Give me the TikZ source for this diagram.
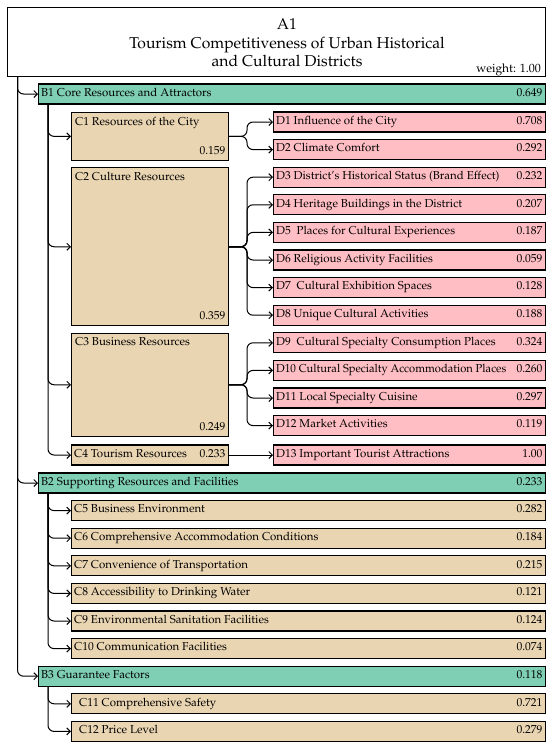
\documentclass[tikz,border=0pt]{standalone}
\usepackage[T1]{fontenc}
\usepackage{mathpazo}
\usepackage{graphicx}
\usetikzlibrary{arrows.meta}
\definecolor{bcol}{RGB}{127,207,180}
\definecolor{ccol}{RGB}{234,213,178}
\definecolor{dcol}{RGB}{255,190,196}
\newcommand\mkrow[7]{%
  \pgfmathsetmacro\rw{#4-#3}%
  \node[#2, minimum width=\rw pt, minimum height=20pt, anchor=west] (#1) at (#3,#5) {};
  \node[txt] (#1t) at ([xshift=3pt]#1.west) {#6};
  \node[wt] (#1w) at ([xshift=-3.5pt]#1.east) {#7};}
\newcommand\mktall[7]{%
  \pgfmathsetmacro\rw{#4-#2}\pgfmathsetmacro\rh{#5-#3}%
  \node[cbox, minimum width=\rw pt, minimum height=\rh pt, anchor=north west] (#1) at (#2,#3) {};
  \node[txt, anchor=north west] (#1t) at ([xshift=4pt,yshift=-5pt]#1.north west) {#6};
  \node[wt, anchor=base east] (#1w) at ([xshift=-3.5pt,yshift=6.5pt]#1.south east) {#7};}
\begin{document}
\begin{tikzpicture}[x=1pt,y=-1pt,
  box/.style={draw=black, line width=1.1pt, rectangle, inner sep=0pt},
  abox/.style={box, fill=white},
  bbox/.style={box, fill=bcol},
  cbox/.style={box, fill=ccol},
  dbox/.style={box, fill=dcol},
  txt/.style={font=\fontsize{11.5}{13}\selectfont, inner sep=0pt, anchor=mid west},
  wt/.style={font=\fontsize{11.5}{13}\selectfont, inner sep=0pt, anchor=mid east},
  ttl/.style={font=\fontsize{15.7}{18}\selectfont, inner sep=0pt, anchor=base},
  arr/.style={-{Straight Barb[length=3.5pt,width=7pt]}, line width=1pt, rounded corners=6pt}]
\useasboundingbox (0,0) rectangle (550,750);
% title
\node[abox, minimum width=538pt, minimum height=69pt, anchor=north west] (a1) at (7,7) {};
\node[ttl] (a1l1) at (287,29.5) {A1};
\node[ttl] (a1l2) at (287,48) {Tourism Competitiveness of Urban Historical};
\node[ttl] (a1l3) at (287,66.5) {and Cultural Districts};
\node[font=\fontsize{12}{14}\selectfont, inner sep=0pt, anchor=base east] (a1w) at (541,72) {weight: 1.00};
% B level
\mkrow{b1}{bbox}{38}{545}{94}{B1 Core Resources and Attractors}{0.649}
\mkrow{b2}{bbox}{38}{545}{483}{B2 Supporting Resources and Facilities}{0.233}
\mkrow{b3}{bbox}{38}{545}{676.2}{B3 Guarantee Factors}{0.118}
% C level under B1
\mktall{c1}{71}{112}{228}{159.6}{C1 Resources of the City}{0.159}
\mktall{c2}{71}{167.2}{228}{325.2}{C2 Culture Resources}{0.359}
\mktall{c3}{71}{332.8}{228}{435.6}{C3 Business Resources}{0.249}
\mkrow{c4}{cbox}{71}{228}{455}{C4 Tourism Resources}{0.233}
% D level
\mkrow{d1}{dbox}{273}{545}{122}{D1 Influence of the City}{0.708}
\mkrow{d2}{dbox}{273}{545}{149.6}{D2 Climate Comfort}{0.292}
\mkrow{d3}{dbox}{273}{545}{177.2}{D3 District's Historical Status (Brand Effect)}{0.232}
\mkrow{d4}{dbox}{273}{545}{204.8}{D4 Heritage Buildings in the District}{0.207}
\mkrow{d5}{dbox}{273}{545}{232.4}{D5\ \ Places for Cultural Experiences}{0.187}
\mkrow{d6}{dbox}{273}{545}{260}{D6 Religious Activity Facilities}{0.059}
\mkrow{d7}{dbox}{273}{545}{287.6}{D7\ \ Cultural Exhibition Spaces}{0.128}
\mkrow{d8}{dbox}{273}{545}{315.2}{D8 Unique Cultural Activities}{0.188}
\mkrow{d9}{dbox}{273}{545}{342.8}{D9\ \ Cultural Specialty Consumption Places}{0.324}
\mkrow{d10}{dbox}{273}{545}{370.4}{\scalebox{0.97}[1]{D10 Cultural Specialty Accommodation Places}}{0.260}
\mkrow{d11}{dbox}{273}{545}{398}{D11 Local Specialty Cuisine}{0.297}
\mkrow{d12}{dbox}{273}{545}{425.6}{D12 Market Activities}{0.119}
\mkrow{d13}{dbox}{273}{545}{455}{D13 Important Tourist Attractions}{1.00}
% C level under B2, B3
\mkrow{c5}{cbox}{71}{545}{510.6}{C5 Business Environment}{0.282}
\mkrow{c6}{cbox}{71}{545}{538.2}{C6 Comprehensive Accommodation Conditions}{0.184}
\mkrow{c7}{cbox}{71}{545}{565.8}{C7 Convenience of Transportation}{0.215}
\mkrow{c8}{cbox}{71}{545}{593.4}{C8 Accessibility to Drinking Water}{0.121}
\mkrow{c9}{cbox}{71}{545}{621}{C9 Environmental Sanitation Facilities}{0.124}
\mkrow{c10}{cbox}{71}{545}{648.6}{C10 Communication Facilities}{0.074}
\mkrow{c11}{cbox}{71}{545}{703.8}{\hspace{5pt}C11 Comprehensive Safety}{0.721}
\mkrow{c12}{cbox}{71}{545}{731.4}{\hspace{5pt}C12 Price Level}{0.279}
% trunk coordinates
\coordinate (ta) at (17.5,0);
\coordinate (tb) at (48,0);
\coordinate (tj) at (247,0);
% A -> B
\foreach \b in {b1,b2,b3} \draw[arr] (a1.south -| ta) |- (\b.west);
% B1 -> C
\foreach \c in {c1,c2,c3,c4} \draw[arr] (b1.south -| tb) |- (\c.west);
% B2 -> C
\foreach \c in {c5,c6,c7,c8,c9,c10} \draw[arr] (b2.south -| tb) |- (\c.west);
% B3 -> C
\foreach \c in {c11,c12} \draw[arr] (b3.south -| tb) |- (\c.west);
% C -> D
\foreach \d in {d1,d2} \draw[arr] (c1.east) -| (tj |- \d.west) -- (\d.west);
\foreach \d in {d3,d4,d5,d6,d7,d8} \draw[arr] (c2.east) -| (tj |- \d.west) -- (\d.west);
\foreach \d in {d9,d10,d11,d12} \draw[arr] (c3.east) -| (tj |- \d.west) -- (\d.west);
\draw[arr] (c4.east) -- (d13.west);
\end{tikzpicture}
\end{document}
